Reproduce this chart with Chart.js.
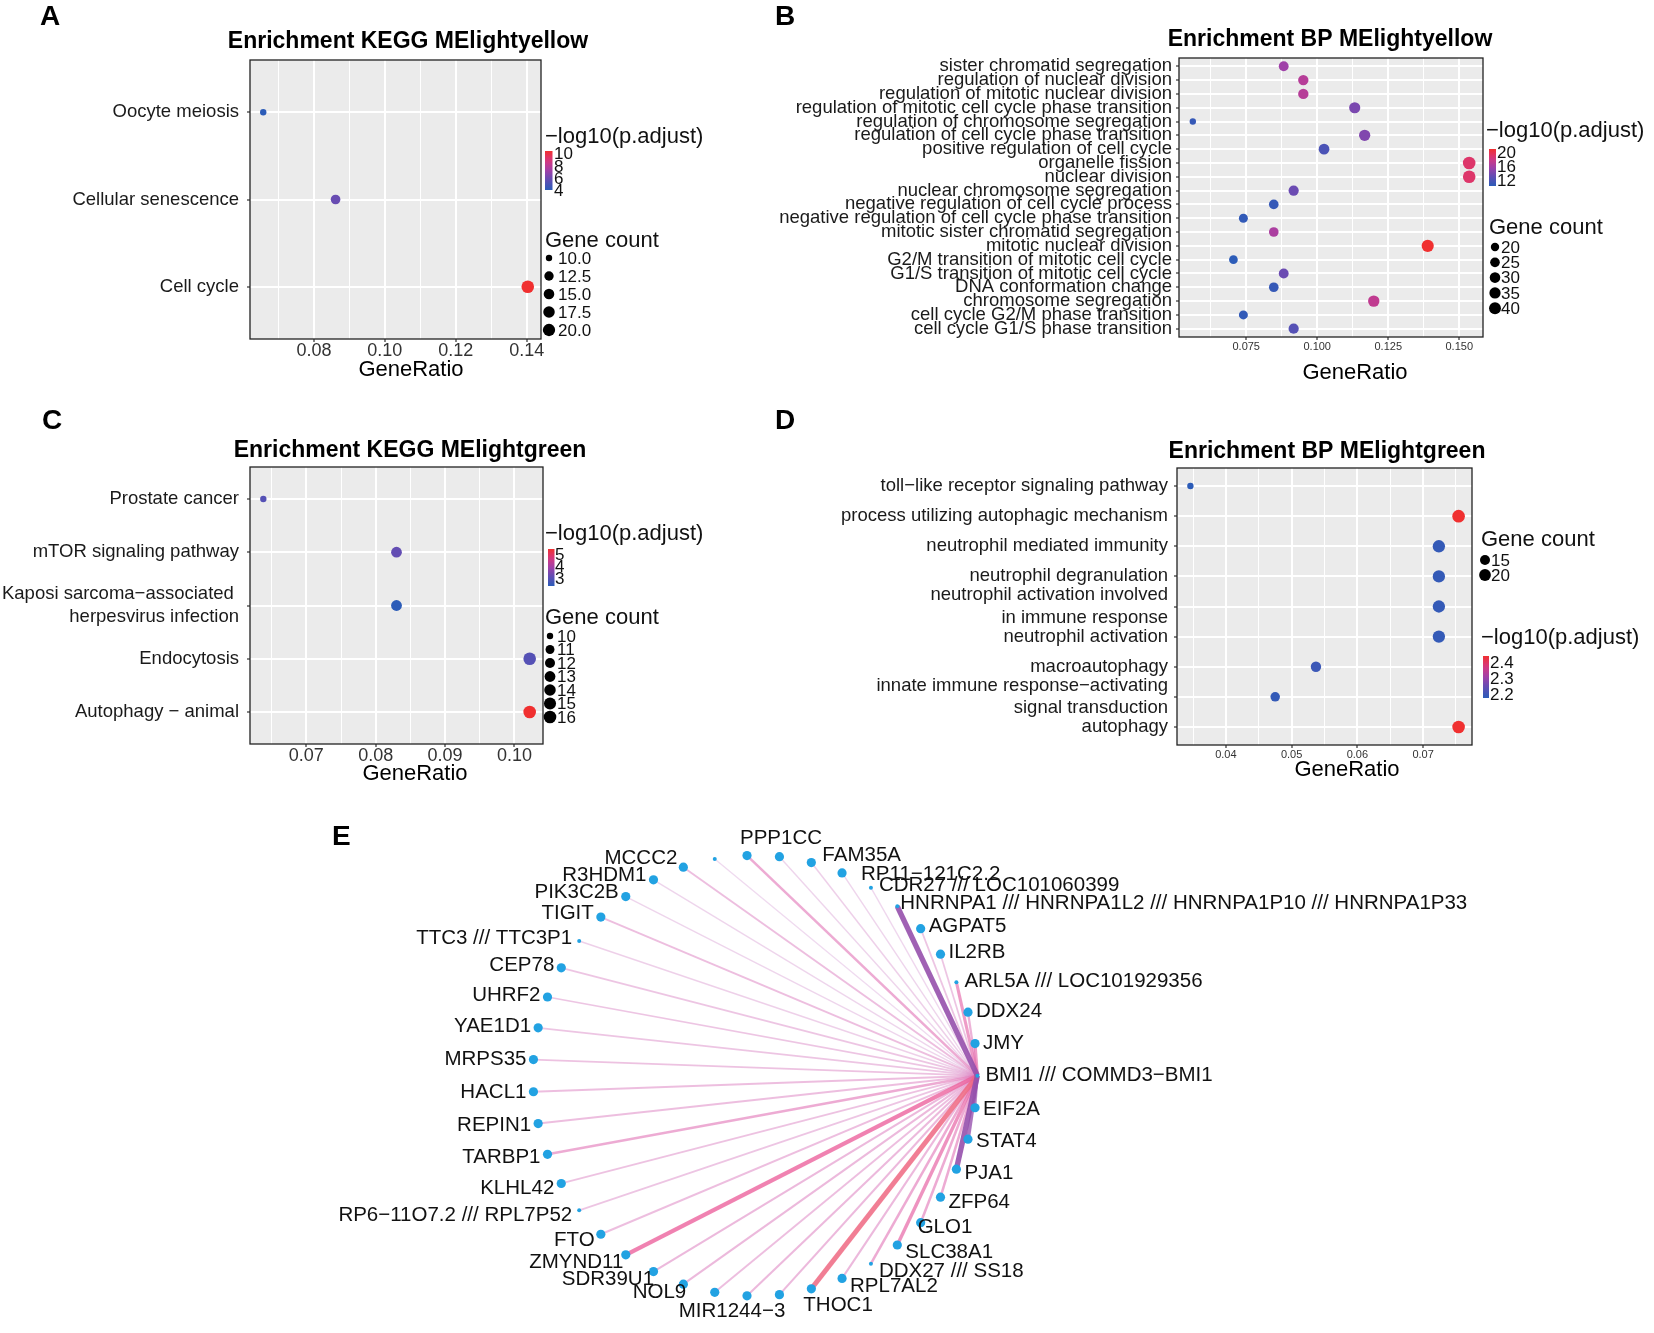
<!DOCTYPE html>
<html>
<head>
<meta charset="utf-8">
<script src="https://cdn.jsdelivr.net/npm/chart.js@4.4.0/dist/chart.umd.min.js"></script>
<style>
  body { margin: 0; background: #fff; width: 1654px; height: 1333px; position: relative; overflow: hidden; }
  .panel { position: absolute; }
</style>
</head>
<body>
<div class="panel" style="left:0;top:0;width:760px;height:390px"><canvas id="chartA"></canvas></div>
<div class="panel" style="left:760px;top:0;width:894px;height:390px"><canvas id="chartB"></canvas></div>
<div class="panel" style="left:0;top:390px;width:760px;height:390px"><canvas id="chartC"></canvas></div>
<div class="panel" style="left:760px;top:390px;width:894px;height:390px"><canvas id="chartD"></canvas></div>
<div class="panel" style="left:300px;top:780px;width:1200px;height:553px"><canvas id="chartE"></canvas></div>
<script>
// ---- A: KEGG enrichment, MElightyellow module
const keggYellowTerms = ['Oocyte meiosis', 'Cellular senescence', 'Cell cycle'];
const keggYellowRatio = [0.0657, 0.0861, 0.1403];
const keggYellowCount = [10, 13, 21];
const keggYellowLogP = [4.1, 5.9, 10.4];
const keggYellowRatioMajor = [0.08, 0.10, 0.12, 0.14];
const keggYellowRatioMinor = [0.07, 0.09, 0.11, 0.13];
const keggYellowLogPBreaks = [4, 6, 8, 10];
const keggYellowCountBreaks = [10, 12.5, 15, 17.5, 20];

// ---- B: GO BP enrichment, MElightyellow module
const bpYellowTerms = [
  'sister chromatid segregation', 'regulation of nuclear division', 'regulation of mitotic nuclear division',
  'regulation of mitotic cell cycle phase transition', 'regulation of chromosome segregation',
  'regulation of cell cycle phase transition', 'positive regulation of cell cycle', 'organelle fission',
  'nuclear division', 'nuclear chromosome segregation', 'negative regulation of cell cycle process',
  'negative regulation of cell cycle phase transition', 'mitotic sister chromatid segregation',
  'mitotic nuclear division', 'G2/M transition of mitotic cell cycle', 'G1/S transition of mitotic cell cycle',
  'DNA conformation change', 'chromosome segregation', 'cell cycle G2/M phase transition',
  'cell cycle G1/S phase transition'];
const bpYellowRatio = [0.0882, 0.0951, 0.0951, 0.1132, 0.0562, 0.1167, 0.1024, 0.1535, 0.1535, 0.0917,
  0.0847, 0.0740, 0.0847, 0.1389, 0.0705, 0.0882, 0.0847, 0.1199, 0.0740, 0.0917];
const bpYellowCount = [26, 29, 29, 34, 17, 35, 31, 46, 46, 28, 25, 22, 25, 42, 21, 26, 25, 36, 22, 28];
const bpYellowLogP = [15.6, 16.7, 16.7, 14.1, 10.9, 14.4, 12.0, 19.0, 19.0, 13.5, 10.9, 10.7, 16.2, 20.9,
  10.4, 13.5, 10.9, 17.2, 10.7, 12.5];
const bpYellowRatioMajor = [0.075, 0.100, 0.125, 0.150];
const bpYellowRatioMinor = [0.0625, 0.0875, 0.1125, 0.1375];
const bpYellowLogPBreaks = [12, 16, 20];
const bpYellowCountBreaks = [20, 25, 30, 35, 40];

// ---- C: KEGG enrichment, MElightgreen module
const keggGreenTerms = ['Prostate cancer', 'mTOR signaling pathway',
  ['Kaposi sarcoma\u2212associated ', 'herpesvirus infection'], 'Endocytosis', 'Autophagy \u2212 animal'];
const keggGreenRatio = [0.0638, 0.0830, 0.0830, 0.1022, 0.1022];
const keggGreenCount = [10, 13, 13, 16, 16];
const keggGreenLogP = [2.95, 3.15, 2.3, 2.95, 5.5];
const keggGreenRatioMajor = [0.07, 0.08, 0.09, 0.10];
const keggGreenRatioMinor = [0.065, 0.075, 0.085, 0.095];
const keggGreenLogPBreaks = [3, 4, 5];
const keggGreenCountBreaks = [10, 11, 12, 13, 14, 15, 16];

// ---- D: GO BP enrichment, MElightgreen module
const bpGreenTerms = ['toll\u2212like receptor signaling pathway', 'process utilizing autophagic mechanism',
  'neutrophil mediated immunity', 'neutrophil degranulation',
  ['neutrophil activation involved', 'in immune response'], 'neutrophil activation', 'macroautophagy',
  ['innate immune response\u2212activating', 'signal transduction'], 'autophagy'];
const bpGreenRatio = [0.0346, 0.0754, 0.0724, 0.0724, 0.0724, 0.0724, 0.0537, 0.0475, 0.0754];
const bpGreenCount = [11, 23, 22, 22, 22, 22, 16, 14, 23];
const bpGreenLogP = [2.18, 2.44, 2.19, 2.19, 2.19, 2.19, 2.20, 2.19, 2.44];
const bpGreenRatioMajor = [0.04, 0.05, 0.06, 0.07];
const bpGreenRatioMinor = [0.035, 0.045, 0.055, 0.065, 0.075];
const bpGreenLogPBreaks = [2.2, 2.3, 2.4];
const bpGreenCountBreaks = [15, 20];

// ---- E: co-expression network around the hub gene (first entry), circle order
const netGenes = ['BMI1 /// COMMD3\u2212BMI1', 'JMY', 'DDX24', 'ARL5A /// LOC101929356', 'IL2RB', 'AGPAT5',
  'HNRNPA1 /// HNRNPA1L2 /// HNRNPA1P10 /// HNRNPA1P33', 'CDR27 /// LOC101060399', 'RP11\u2212121C2.2',
  'FAM35A', '', 'PPP1CC', '', 'MCCC2', 'R3HDM1', 'PIK3C2B', 'TIGIT', 'TTC3 /// TTC3P1', 'CEP78', 'UHRF2',
  'YAE1D1', 'MRPS35', 'HACL1', 'REPIN1', 'TARBP1', 'KLHL42', 'RP6\u221211O7.2 /// RPL7P52', 'FTO',
  'ZMYND11', 'SDR39U1', 'NOL9', '', 'MIR1244\u22123', '', 'THOC1', 'RPL7AL2', 'DDX27 /// SS18', 'SLC38A1',
  'GLO1', 'ZFP64', 'PJA1', 'STAT4', 'EIF2A'];
// 1 = single-gene probe, 0 = multi-mapped / low-expression probe
const netNodeClass = [0, 1, 1, 0, 1, 1, 0, 0, 1, 1, 1, 1, 0, 1, 1, 1, 1, 0, 1, 1, 1, 1, 1, 1, 1, 1, 0, 1,
  1, 1, 1, 1, 1, 1, 1, 1, 0, 1, 1, 1, 1, 1, 1];
// signed edge weight hub -> gene (index 0 unused)
const netEdgeWeight = [0, 0.6, 0.45, 0.6, 0.3, 0.3, -0.9, 0.12, 0.15, 0.2, 0.15, 0.5, 0.1, 0.35, 0.15,
  0.15, 0.35, 0.2, 0.3, 0.3, 0.3, 0.32, 0.35, 0.35, 0.5, 0.32, 0.3, 0.35, 0.75, 0.4, 0.4, 0.35, 0.4, 0.4,
  0.85, 0.4, 0.5, 0.65, 0.5, 0.5, -0.9, -0.7, -0.5];

// ------------------------------------------------------------------
const FONT = '"Liberation Sans", Arial, Helvetica, sans-serif';
const R0 = 3.2, R1 = 6.3;
const RAMP = [[0, [44, 92, 184]], [0.25, [95, 78, 180]], [0.5, [160, 64, 168]], [0.75, [214, 56, 128]], [1, [240, 48, 48]]];

function rampColour(t) {
  t = Math.max(0, Math.min(1, t));
  for (let i = 1; i < RAMP.length; i++) {
    if (t <= RAMP[i][0]) {
      const [t0, c0] = RAMP[i - 1], [t1, c1] = RAMP[i];
      const f = (t - t0) / (t1 - t0);
      const c = c0.map((v, k) => Math.round(v + (c1[k] - v) * f));
      return `rgb(${c[0]},${c[1]},${c[2]})`;
    }
  }
  return 'rgb(240,48,48)';
}
const fmtBreaks = arr => {
  const dec = arr.some(v => Math.abs(v - Math.round(v)) > 1e-9) ? 1 : 0;
  return arr.map(v => v.toFixed(dec));
};

// grey panel, border, titles and the two ggplot-style legends
const dotDecor = {
  id: 'dotDecor',
  beforeDraw(chart, args, o) {
    const { ctx, chartArea: a } = chart;
    ctx.save();
    ctx.fillStyle = '#ebebeb';
    ctx.fillRect(a.left, a.top, a.right - a.left, a.bottom - a.top);
    ctx.restore();
  },
  afterDraw(chart, args, o) {
    const { ctx, chartArea: a } = chart;
    const ox = o.origin.x, oy = o.origin.y;
    const L = o.lay;
    ctx.save();
    ctx.strokeStyle = '#222';
    ctx.lineWidth = 1.3;
    ctx.strokeRect(a.left, a.top, a.right - a.left, a.bottom - a.top);
    ctx.fillStyle = '#000';
    ctx.textBaseline = 'middle';
    ctx.textAlign = 'left';
    ctx.font = `bold 28px ${FONT}`;
    ctx.fillText(o.letter, L.letter[0] - ox, L.letter[1] - oy);
    ctx.textAlign = 'center';
    ctx.font = `bold 23px ${FONT}`;
    ctx.fillText(o.title, L.title[0] - ox, L.title[1] - oy);
    ctx.font = `22px ${FONT}`;
    ctx.fillText('GeneRatio', L.axisTitle[0] - ox, L.axisTitle[1] - oy);

    // colour bar
    const cb = L.colour;
    ctx.textAlign = 'left';
    ctx.fillStyle = '#111';
    ctx.font = `22px ${FONT}`;
    ctx.fillText('\u2212log10(p.adjust)', cb.title[0] - ox, cb.title[1] - oy);
    const [bx, by, bw, bh] = [cb.bar[0] - ox, cb.bar[1] - oy, cb.bar[2], cb.bar[3]];
    const g = ctx.createLinearGradient(0, by + bh, 0, by);
    for (let i = 0; i <= 10; i++) g.addColorStop(i / 10, rampColour(i / 10));
    ctx.fillStyle = g;
    ctx.fillRect(bx, by, bw, bh);
    ctx.fillStyle = '#111';
    ctx.font = `17px ${FONT}`;
    const cLab = fmtBreaks(o.logpBreaks);
    o.logpBreaks.forEach((v, i) => {
      const yy = by + bh - (v - o.pmin) / (o.pmax - o.pmin) * bh;
      ctx.fillText(cLab[i], cb.labelX - ox, yy + 1);
    });

    // size legend
    const sz = L.size;
    ctx.font = `22px ${FONT}`;
    ctx.fillText('Gene count', sz.title[0] - ox, sz.title[1] - oy);
    ctx.font = `17px ${FONT}`;
    const sLab = fmtBreaks(o.countBreaks);
    o.countBreaks.forEach((v, i) => {
      const yy = sz.firstY + i * sz.step - oy;
      ctx.beginPath();
      ctx.fillStyle = '#000';
      ctx.arc(sz.dotX - ox, yy, o.radius(v), 0, Math.PI * 2);
      ctx.fill();
      ctx.fillStyle = '#111';
      ctx.fillText(sLab[i], sz.textX - ox, yy + 1);
    });
    ctx.restore();
  }
};

function dotPlot(id, d, L) {
  const n = d.terms.length;
  const cmin = Math.min(...d.count), cmax = Math.max(...d.count);
  const pmin = Math.min(...d.logp), pmax = Math.max(...d.logp);
  const radius = c => R0 + (R1 - R0) * Math.sqrt(Math.max(0, (c - cmin) / (cmax - cmin)));
  const rMin = Math.min(...d.ratio), rMax = Math.max(...d.ratio);
  const pad = (rMax - rMin) * 0.05;
  const xTicks = d.major.concat(d.minor).sort((a, b) => a - b);
  const isMajor = v => d.major.some(m => Math.abs(m - v) < 1e-7);
  const O = L.origin;
  new Chart(document.getElementById(id), {
    type: 'scatter',
    data: {
      datasets: [{
        data: d.ratio.map((r, i) => ({ x: r, y: i })),
        pointRadius: d.count.map(radius),
        pointHoverRadius: d.count.map(radius),
        pointBackgroundColor: d.logp.map(v => rampColour((v - pmin) / (pmax - pmin))),
        pointBorderWidth: 0,
        clip: false
      }]
    },
    options: {
      responsive: true, maintainAspectRatio: false, animation: false, events: [],
      layout: { padding: { top: L.area.t - O.y, right: O.x + O.w - L.area.r, left: 0, bottom: 0 } },
      plugins: {
        legend: { display: false }, tooltip: { enabled: false },
        dotDecor: { origin: O, lay: L, letter: d.letter, title: d.title, pmin, pmax,
          logpBreaks: d.logpBreaks, countBreaks: d.countBreaks, radius }
      },
      scales: {
        x: {
          type: 'linear', min: rMin - pad, max: rMax + pad,
          afterBuildTicks: s => { s.ticks = xTicks.map(v => ({ value: v })); },
          afterFit: s => { s.height = O.y + O.h - L.area.b; },
          ticks: {
            autoSkip: false, maxRotation: 0, padding: L.xPad, color: '#333',
            font: { family: FONT, size: L.xFont },
            callback: v => isMajor(v) ? v.toFixed(d.dec) : ''
          },
          grid: {
            color: '#ffffff', lineWidth: c => isMajor(c.tick.value) ? 2 : 1,
            tickColor: c => isMajor(c.tick.value) ? '#333' : 'rgba(0,0,0,0)', tickLength: 3, tickWidth: 1.2
          },
          border: { display: false }
        },
        y: {
          type: 'linear', reverse: true, min: -0.6, max: n - 0.4,
          afterBuildTicks: s => { s.ticks = d.terms.map((t, i) => ({ value: i })); },
          afterFit: s => { s.width = L.area.l - O.x; },
          ticks: {
            autoSkip: false, padding: L.yPad, color: '#1a1a1a',
            font: { family: FONT, size: L.yFont, lineHeight: 1.2 },
            callback: v => d.terms[v]
          },
          grid: { color: '#ffffff', lineWidth: 2, tickColor: '#333', tickLength: 3, tickWidth: 1.2 },
          border: { display: false }
        }
      }
    },
    plugins: [dotDecor]
  });
}

dotPlot('chartA', {
  letter: 'A', title: 'Enrichment KEGG MElightyellow', terms: keggYellowTerms, ratio: keggYellowRatio,
  count: keggYellowCount, logp: keggYellowLogP, major: keggYellowRatioMajor, minor: keggYellowRatioMinor,
  logpBreaks: keggYellowLogPBreaks, countBreaks: keggYellowCountBreaks, dec: 2
}, {
  origin: { x: 0, y: 0, w: 760, h: 390 }, area: { l: 250, r: 541, t: 60, b: 339 },
  letter: [40, 17], title: [408, 42], axisTitle: [411, 370],
  xFont: 18, yFont: 18.5, xPad: -2, yPad: 8,
  colour: { title: [545, 137], bar: [545, 151, 7.5, 39], labelX: 554 },
  size: { title: [545, 241], dotX: 549, textX: 558, firstY: 258, step: 18 }
});

dotPlot('chartB', {
  letter: 'B', title: 'Enrichment BP MElightyellow', terms: bpYellowTerms, ratio: bpYellowRatio,
  count: bpYellowCount, logp: bpYellowLogP, major: bpYellowRatioMajor, minor: bpYellowRatioMinor,
  logpBreaks: bpYellowLogPBreaks, countBreaks: bpYellowCountBreaks, dec: 3
}, {
  origin: { x: 760, y: 0, w: 894, h: 390 }, area: { l: 1179, r: 1483, t: 58, b: 337 },
  letter: [775, 17], title: [1330, 40], axisTitle: [1355, 373],
  xFont: 11, yFont: 18.5, xPad: 0, yPad: 4,
  colour: { title: [1486, 131], bar: [1489, 149, 7, 37], labelX: 1497 },
  size: { title: [1489, 228], dotX: 1495, textX: 1501, firstY: 247, step: 15.3 }
});

dotPlot('chartC', {
  letter: 'C', title: 'Enrichment KEGG MElightgreen', terms: keggGreenTerms, ratio: keggGreenRatio,
  count: keggGreenCount, logp: keggGreenLogP, major: keggGreenRatioMajor, minor: keggGreenRatioMinor,
  logpBreaks: keggGreenLogPBreaks, countBreaks: keggGreenCountBreaks, dec: 2
}, {
  origin: { x: 0, y: 390, w: 760, h: 390 }, area: { l: 250, r: 543, t: 467, b: 744 },
  letter: [42, 421], title: [410, 451], axisTitle: [415, 774],
  xFont: 18, yFont: 18.5, xPad: -2, yPad: 8,
  colour: { title: [545, 534], bar: [548, 549, 6.5, 37], labelX: 555 },
  size: { title: [545, 618], dotX: 550, textX: 557, firstY: 636, step: 13.5 }
});

dotPlot('chartD', {
  letter: 'D', title: 'Enrichment BP MElightgreen', terms: bpGreenTerms, ratio: bpGreenRatio,
  count: bpGreenCount, logp: bpGreenLogP, major: bpGreenRatioMajor, minor: bpGreenRatioMinor,
  logpBreaks: bpGreenLogPBreaks, countBreaks: bpGreenCountBreaks, dec: 2
}, {
  origin: { x: 760, y: 390, w: 894, h: 390 }, area: { l: 1177, r: 1472, t: 468, b: 745 },
  letter: [775, 421], title: [1327, 452], axisTitle: [1347, 770],
  xFont: 11, yFont: 18.5, xPad: 0, yPad: 6,
  colour: { title: [1481, 638], bar: [1483, 656, 6, 42], labelX: 1490 },
  size: { title: [1481, 540], dotX: 1485, textX: 1491, firstY: 560, step: 15 }
});

// ---- E: circle layout network
const E_ORIGIN = { x: 300, y: 780, w: 1200, h: 553 };
const E_CENTER = { x: 754, y: 1076 }, E_RADIUS = 224;
const nNodes = netGenes.length;
const nodePos = netGenes.map((g, i) => {
  const a = i * 2 * Math.PI / nNodes;
  return { x: Math.cos(a), y: Math.sin(a) };
});

function edgeColour(w) {
  const s = Math.abs(w);
  if (w < 0) return `rgba(150,80,172,${(0.4 + 0.55 * s).toFixed(2)})`;
  const stops = [[0, [208, 160, 216]], [0.5, [226, 122, 186]], [0.75, [236, 96, 156]], [0.9, [240, 106, 116]], [1, [240, 106, 116]]];
  let c = stops[0][1];
  for (let i = 1; i < stops.length; i++) {
    if (s <= stops[i][0]) {
      const f = (s - stops[i - 1][0]) / (stops[i][0] - stops[i - 1][0]);
      c = stops[i - 1][1].map((v, k) => Math.round(v + (stops[i][1][k] - v) * f));
      break;
    }
  }
  return `rgba(${c[0]},${c[1]},${c[2]},${(0.3 + 0.65 * s).toFixed(2)})`;
}

const edgeSets = [];
for (let i = 1; i < nNodes; i++) {
  const w = netEdgeWeight[i];
  edgeSets.push({
    type: 'scatter', showLine: true,
    data: [nodePos[0], nodePos[i]],
    borderColor: edgeColour(w),
    borderWidth: 1.3 + 5 * w * w,
    pointRadius: 0,
    order: -Math.round(Math.abs(w) * 100),
    clip: false
  });
}
const nodeSet = {
  data: nodePos,
  pointRadius: netNodeClass.map(k => k ? 4.6 : 2),
  pointHoverRadius: netNodeClass.map(k => k ? 4.6 : 2),
  pointBackgroundColor: '#22a2e2',
  pointBorderWidth: 0,
  order: -1000,
  clip: false
};

const labelNudge = {
  'PPP1CC': { dx: -7, dy: -17, align: 'left' },
  'FAM35A': { dx: 11, dy: -7, align: 'left' },
  'RP11\u2212121C2.2': { dx: 19, dy: 1, align: 'left' },
  'HNRNPA1 /// HNRNPA1L2 /// HNRNPA1P10 /// HNRNPA1P33': { dx: 3, dy: -3, align: 'left' },
  'GLO1': { dx: -3, dy: 5, align: 'left' },
  'THOC1': { dx: -8, dy: 17, align: 'left' },
  'MIR1244\u22123': { dx: -15, dy: 16, align: 'center' },
  'MCCC2': { dx: -6, dy: -9, align: 'right' }
};

const netLabels = {
  id: 'netLabels',
  afterDraw(chart) {
    const { ctx, scales: { x, y } } = chart;
    ctx.save();
    ctx.font = `20.5px ${FONT}`;
    ctx.fillStyle = '#111';
    ctx.textBaseline = 'middle';
    netGenes.forEach((g, i) => {
      if (!g) return;
      const px = x.getPixelForValue(nodePos[i].x), py = y.getPixelForValue(nodePos[i].y);
      const c = nodePos[i].x, s = nodePos[i].y;
      let p;
      if (labelNudge[g]) p = labelNudge[g];
      else if (c > 0.02) p = { dx: 8, dy: s < 0 ? -s * 9 : -s * 3, align: 'left' };
      else p = { dx: -7 + Math.max(0, -s - 0.7) * 40, dy: s < 0 ? -s * 9 : -s * 5, align: 'right' };
      ctx.textAlign = p.align;
      ctx.fillText(g, px + p.dx, py + p.dy);
    });
    ctx.font = `bold 28px ${FONT}`;
    ctx.textAlign = 'left';
    ctx.fillStyle = '#000';
    ctx.fillText('E', 332 - E_ORIGIN.x, 837 - E_ORIGIN.y);
    ctx.restore();
  }
};

new Chart(document.getElementById('chartE'), {
  type: 'scatter',
  data: { datasets: edgeSets.concat([nodeSet]) },
  options: {
    responsive: true, maintainAspectRatio: false, animation: false, events: [],
    layout: { padding: 0 },
    plugins: { legend: { display: false }, tooltip: { enabled: false } },
    scales: {
      x: { display: false, min: (E_ORIGIN.x - E_CENTER.x) / E_RADIUS, max: (E_ORIGIN.x + E_ORIGIN.w - E_CENTER.x) / E_RADIUS },
      y: { display: false, min: (E_CENTER.y - E_ORIGIN.y - E_ORIGIN.h) / E_RADIUS, max: (E_CENTER.y - E_ORIGIN.y) / E_RADIUS }
    }
  },
  plugins: [netLabels]
});
</script>
</body>
</html>
